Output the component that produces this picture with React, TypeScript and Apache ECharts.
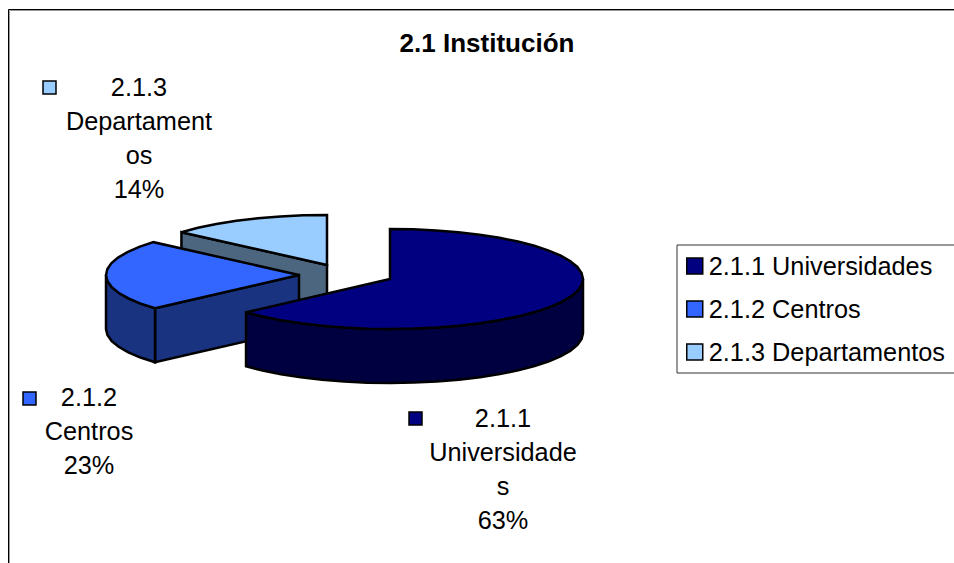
import React, { useEffect, useRef } from "react";
import * as echarts from "echarts";

const categories = ["2.1.1 Universidades", "2.1.2 Centros", "2.1.3 Departamentos"];
const values = [63.4, 23.0, 13.6];
const topColors = ["#000080", "#3366FF", "#99CCFF"];
const sideColors = ["#000040", "#1A3380", "#4D6680"];
const labelHeads = ["2.1.1\nUniversidade\ns", "2.1.2\nCentros", "2.1.3\nDepartament\nos"];

const FONT = '"Liberation Sans", Arial, sans-serif';
const RX = 193;
const RY = 50;
const DEPTH = 54;
const centers = [[390, 279], [299, 275], [327, 265]];
const labelBoxes = [
  { cx: 503, top: 401, key: [409, 412] },
  { cx: 89, top: 380, key: [23, 392] },
  { cx: 139, top: 70, key: [43, 81] },
];

const total = values.reduce((a, b) => a + b, 0);

function arc(c: number[], from: number, to: number, dy = 0) {
  const pts: number[][] = [];
  const step = 7;
  const n = Math.max(1, Math.round(Math.abs(to - from) / step));
  for (let i = 0; i <= n; i++) {
    const t = ((from + ((to - from) * i) / n) * Math.PI) / 180;
    pts.push([c[0] + RX * Math.sin(t), c[1] - RY * Math.cos(t) + dy]);
  }
  return pts;
}

function poly(points: number[][], fill: string) {
  return {
    type: "polygon",
    shape: { points },
    style: { fill, stroke: "#000", lineWidth: 2.5, lineJoin: "miter" },
  };
}

function makeRender(i: number) {
  return (_params: any, api: any) => {
    const value = api.value(0);
    const before = values.slice(0, i).reduce((a, b) => a + b, 0);
    const a0 = (before / total) * 360;
    const a1 = a0 + (value / total) * 360;
    const c = centers[i];
    const children: any[] = [];
    const base = [c[0], c[1] + DEPTH];

    // the cut face at the start of the slice looks towards the viewer
    const startPt = arc(c, a0, a0)[0];
    if (a0 > 180 && a0 < 360) {
      children.push(poly([startPt, c, base, [startPt[0], startPt[1] + DEPTH]], sideColors[i]));
    }
    // outer rim on the front half
    const rimFrom = Math.max(a0, 90);
    const rimTo = Math.min(a1, 270);
    if (rimFrom < rimTo) {
      const top = arc(c, rimFrom, rimTo);
      const bottom = arc(c, rimTo, rimFrom, DEPTH);
      children.push(poly([...top, ...bottom], sideColors[i]));
    }
    // top face
    children.push(poly([c, ...arc(c, a0, a1)], topColors[i]));

    // data label with legend key
    const box = labelBoxes[i];
    children.push({
      type: "rect",
      shape: { x: box.key[0], y: box.key[1], width: 13, height: 13 },
      style: { fill: topColors[i], stroke: "#000", lineWidth: 1.5 },
    });
    children.push({
      type: "text",
      style: {
        x: box.cx,
        y: box.top,
        text: `${labelHeads[i]}\n${Math.round((value / total) * 100)}%`,
        font: `25.3px ${FONT}`,
        lineHeight: 34,
        align: "center",
        verticalAlign: "top",
        fill: "#000",
      },
    });
    return { type: "group", children };
  };
}

export default function App() {
  const ref = useRef<HTMLDivElement>(null);
  useEffect(() => {
    const chart = echarts.init(ref.current!, undefined, { renderer: "svg" });
    chart.setOption({
      animation: false,
      backgroundColor: "#fff",
      title: {
        text: "2.1 Institución",
        left: 487,
        top: 30,
        textAlign: "center",
        padding: 0,
        textStyle: { fontFamily: FONT, fontWeight: "bold", fontSize: 26, color: "#000" },
      },
      legend: {
        data: categories,
        orient: "vertical",
        left: 677,
        top: 245,
        padding: [4, 30, 4, 9],
        backgroundColor: "#fff",
        borderColor: "#333",
        borderWidth: 1,
        itemWidth: 16,
        itemHeight: 16,
        itemGap: 9,
        icon: "rect",
        selectedMode: false,
        itemStyle: { borderColor: "#000", borderWidth: 1.5 },
        textStyle: { fontFamily: FONT, fontSize: 25.3, color: "#000", padding: [0, 0, 0, 1], lineHeight: 34 },
      },
      graphic: [
        {
          type: "polyline",
          z: 0,
          shape: { points: [[8.5, 563], [8.5, 9.5], [954, 9.5]] },
          style: { fill: "none", stroke: "#000", lineWidth: 1 },
        },
        {
          type: "polyline",
          z: 0,
          shape: { points: [[9.5, 563], [9.5, 10.5], [954, 10.5]] },
          style: { fill: "none", stroke: "#999", lineWidth: 1 },
        },
      ],
      series: categories.map((name, i) => ({
        type: "custom",
        name,
        coordinateSystem: "none",
        z: 10 - i,
        itemStyle: { color: topColors[i] },
        data: [[values[i]]],
        renderItem: makeRender(i),
        silent: true,
      })),
    });
    return () => chart.dispose();
  }, []);
  return (
    <div
      ref={ref}
      style={{ position: "absolute", left: 0, top: 0, width: 954, height: 563 }}
    />
  );
}
